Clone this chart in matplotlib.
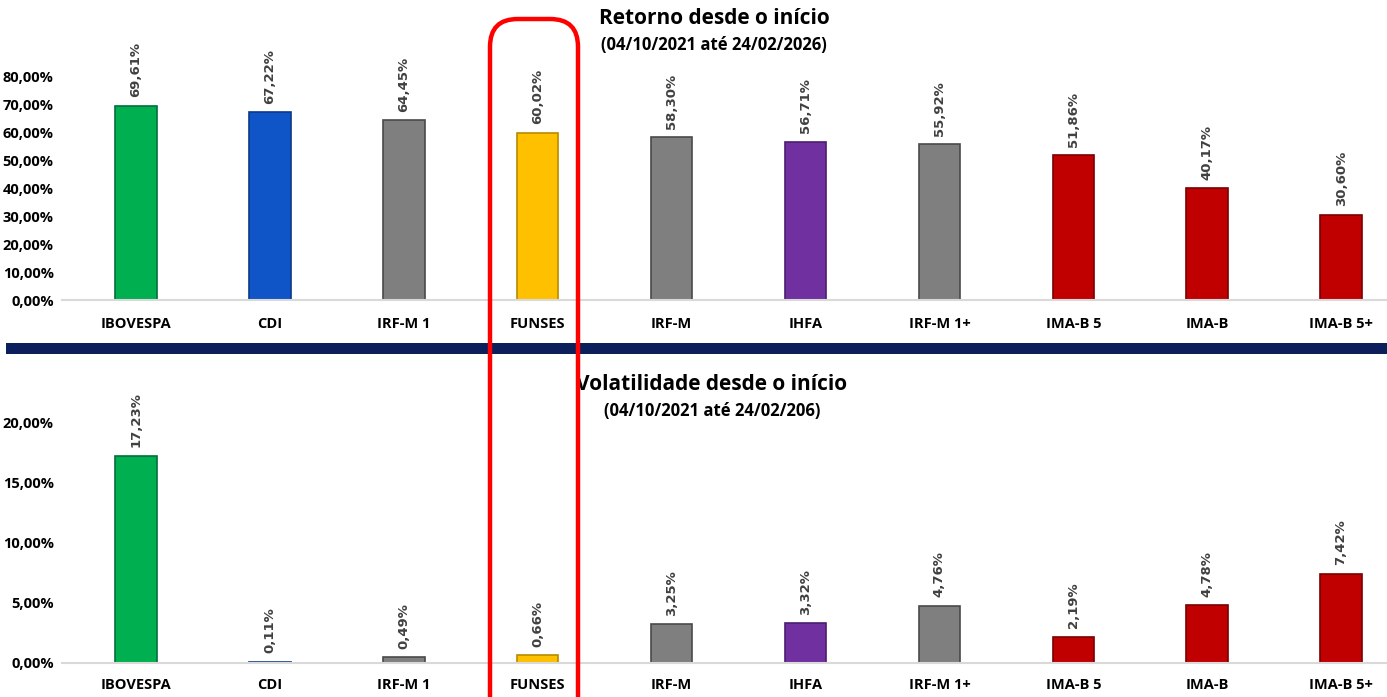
import matplotlib
matplotlib.use("Agg")
import matplotlib.pyplot as plt
from matplotlib import font_manager
from matplotlib.patches import Rectangle, FancyBboxPatch
from matplotlib.ticker import FuncFormatter

categories = ["IBOVESPA", "CDI", "IRF-M 1", "FUNSES", "IRF-M", "IHFA",
              "IRF-M 1+", "IMA-B 5", "IMA-B", "IMA-B 5+"]
retorno = [69.61, 67.22, 64.45, 60.02, 58.30, 56.71, 55.92, 51.86, 40.17, 30.60]
volatilidade = [17.23, 0.11, 0.49, 0.66, 3.25, 3.32, 4.76, 2.19, 4.78, 7.42]
bar_colors = ["#00b050", "#0f55c8", "#7f7f7f", "#ffc000", "#7f7f7f", "#7030a0",
              "#7f7f7f", "#c00000", "#c00000", "#c00000"]
edge_colors = ["#00703a", "#0a3a8a", "#4a4a4a", "#b88a00", "#4a4a4a", "#4a1f6e",
               "#4a4a4a", "#7a0000", "#7a0000", "#7a0000"]

title_top = "Retorno desde o início"
sub_top = "(04/10/2021 até 24/02/2026)"
title_bot = "Volatilidade desde o início"
sub_bot = "(04/10/2021 até 24/02/206)"


def pick_font(cands):
    names = {f.name for f in font_manager.fontManager.ttflist}
    for c in cands:
        if c in names:
            return c
    return "DejaVu Sans"


narrow = pick_font(["Liberation Sans Narrow", "Open Sans", "Liberation Sans"])
labfont = "DejaVu Sans"

W, H = 1387, 697
fig = plt.figure(figsize=(W / 100, H / 100), dpi=100)


def px_axes(left, right, y0, y1):
    # pixel box -> figure fraction
    return [left / W, 1 - y0 / H, (right - left) / W, (y0 - y1) / H]


def pct(v, _):
    return f"{v:.2f}%".replace(".", ",")


def draw(ax, vals, ymax, yticks, label_pad):
    x = list(range(len(categories)))
    ax.bar(x, vals, width=0.31, color=bar_colors, edgecolor=edge_colors, linewidth=1.2, zorder=2)
    for xi, v in zip(x, vals):
        ax.annotate(pct(v, None), (xi, v), xytext=(0, 6),
                    textcoords="offset points", rotation=90, ha="center", va="bottom",
                    fontsize=9.5, fontweight="bold", color="#404040",
                    family=labfont, annotation_clip=False)
    ax.set_xlim(-0.553, 9.343)
    ax.set_ylim(0, ymax)
    ax.set_yticks(yticks)
    ax.yaxis.set_major_formatter(FuncFormatter(pct))
    ax.set_xticks(x)
    ax.set_xticklabels(categories, fontweight="bold", fontsize=10.5, family=narrow)
    for s in ["top", "right", "left"]:
        ax.spines[s].set_visible(False)
    ax.spines["bottom"].set_color("#d9d9d9")
    ax.spines["bottom"].set_linewidth(1.5)
    ax.tick_params(axis="both", length=0)
    ax.tick_params(axis="x", pad=label_pad)
    ax.tick_params(axis="y", pad=6)
    for t in ax.get_yticklabels():
        t.set_fontweight("bold")
        t.set_fontsize(10.5)
        t.set_family(narrow)
    ax.patch.set_alpha(0)


# retorno: 0% at y=300, 10% = 27.9 px
ax1 = fig.add_axes(px_axes(62, 1387, 300, 300 - 90 * 2.79))
draw(ax1, retorno, 90, range(0, 81, 10), 12)

# volatilidade: 0% at y=663, 5% = 60.2 px
ax2 = fig.add_axes(px_axes(62, 1387, 663, 663 - 22 * 12.04))
draw(ax2, volatilidade, 22, range(0, 21, 5), 11)

fig.text(714 / W, 1 - 18 / H, title_top, ha="center", va="center",
         fontsize=15, fontweight="bold", family=narrow)
fig.text(714 / W, 1 - 45 / H, sub_top, ha="center", va="center",
         fontsize=12, fontweight="bold", family=narrow)
fig.text(712 / W, 1 - 385 / H, title_bot, ha="center", va="center",
         fontsize=15, fontweight="bold", family=narrow)
fig.text(712 / W, 1 - 411 / H, sub_bot, ha="center", va="center",
         fontsize=12, fontweight="bold", family=narrow)

# navy separator
fig.add_artist(Rectangle((6 / W, 1 - 354 / H), (W - 6) / W, 11 / H,
                         transform=fig.transFigure, facecolor="#0a1f5c",
                         edgecolor="none", zorder=5))

# red highlight around FUNSES
fig.add_artist(FancyBboxPatch((490 / W, -0.05), 88 / W, (1.05 - 19 / H),
                              boxstyle="round,pad=0,rounding_size=0.02",
                              transform=fig.transFigure, facecolor="none",
                              edgecolor="#ff0000", linewidth=3.2, zorder=10,
                              mutation_aspect=W / H))

fig.savefig("out.png", dpi=100)
